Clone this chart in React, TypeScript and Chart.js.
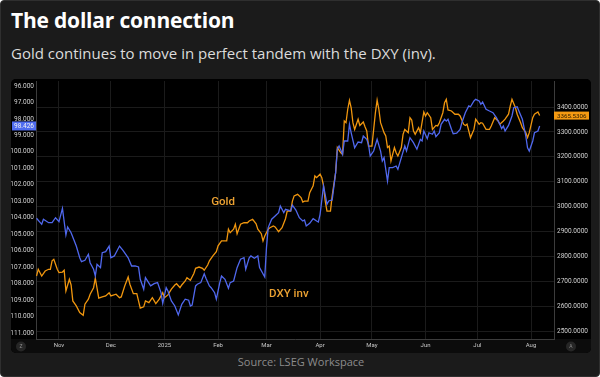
import React, { useEffect, useRef } from "react";
import { Chart, registerables } from "chart.js";
Chart.register(...registerables);

// x values are calendar days counted from 1 Nov 2024
const monthTickDays = [0, 30, 61, 92, 120, 151, 181, 212, 242, 273];
const monthTickLabels = ["Nov", "Dec", "2025", "Feb", "Mar", "Apr", "May", "Jun", "Jul", "Aug"];
const dxyTicks = [96, 97, 98, 99, 100, 101, 102, 103, 104, 105, 106, 107, 108, 109, 110, 111];
const goldTicks = [2500, 2600, 2700, 2800, 2900, 3000, 3100, 3200, 3300, 3400];

const dxyDays = [
  -13, -10, -9, -6, -4, -2, 0, 2, 4, 5, 7, 10, 12, 13, 15, 17, 18, 20, 21, 22,
  24, 25, 27, 29, 30, 32, 35, 37, 40, 42, 44, 46, 47, 49, 50, 53, 55, 57, 59, 60,
  62, 63, 65, 67, 69, 71, 73, 75, 76, 77, 79, 80, 82, 84, 85, 87, 88, 90, 91, 93,
  94, 96, 98, 99, 101, 103, 105, 107, 108, 110, 111, 113, 115, 116, 119, 120, 121, 123, 125, 127,
  128, 130, 131, 134, 135, 137, 139, 141, 142, 143, 145, 147, 149, 150, 151, 153, 155, 156, 158, 160,
  161, 162, 163, 164, 165, 167, 168, 169, 171, 173, 175, 176, 178, 179, 180, 182, 184, 186, 187, 188,
  190, 191, 193, 195, 196, 198, 200, 201, 203, 205, 207, 209, 210, 211, 213, 214, 216, 217, 218, 220,
  221, 223, 224, 225, 227, 228, 230, 232, 233, 235, 237, 238, 240, 241, 243, 244, 245, 247, 249, 251,
  253, 255, 256, 257, 258, 260, 262, 263, 265, 266, 268, 269, 270, 271, 272, 274, 275, 277, 278,
];
const dxyValues = [
  104.03, 104.4, 104.09, 104.3, 104.3, 104.0, 104.24, 103.43, 105.05, 104.56,
  104.91, 105.72, 106.43, 106.67, 106.58, 106.22, 106.73, 107.13, 107.54, 106.83,
  107.03, 106.12, 106.06, 105.72, 106.43, 106.32, 105.72, 105.98, 106.43, 106.93,
  106.93, 106.99, 107.74, 108.34, 107.64, 108.14, 108.0, 107.94, 108.55, 109.2,
  108.25, 108.45, 109.05, 109.36, 109.9, 109.26, 108.95, 109.01, 109.36, 109.3,
  108.14, 108.04, 107.94, 107.4, 107.68, 108.14, 108.25, 108.55, 108.95, 107.94,
  107.54, 107.74, 108.28, 107.94, 107.84, 107.03, 106.52, 106.43, 107.13, 106.43,
  106.32, 106.46, 106.32, 107.03, 107.6, 105.82, 104.6, 104.09, 103.89, 103.69,
  103.29, 103.69, 103.49, 103.59, 103.24, 103.53, 104.0, 104.2, 104.14, 104.5,
  104.34, 104.06, 104.2, 104.26, 103.79, 102.07, 103.18, 102.98, 102.92, 101.26,
  99.84, 99.64, 99.89, 100.15, 99.34, 99.34, 98.33, 98.84, 99.75, 99.4,
  99.44, 99.04, 99.24, 99.54, 100.25, 99.95, 99.24, 99.95, 100.55, 100.35,
  101.77, 100.96, 100.96, 100.86, 101.06, 100.35, 99.64, 99.95, 99.14, 99.44,
  99.84, 99.24, 99.34, 98.73, 99.2, 98.84, 98.93, 98.73, 99.08, 98.84,
  98.33, 98.02, 98.13, 98.02, 98.63, 98.9, 98.87, 98.63, 98.23, 97.62,
  97.21, 97.26, 96.91, 96.81, 96.91, 97.11, 96.97, 97.41, 97.52, 97.62,
  97.92, 98.33, 98.59, 98.43, 98.73, 98.39, 97.82, 97.32, 97.26, 97.52,
  98.02, 98.53, 99.04, 99.75, 99.95, 99.34, 98.84, 98.73, 98.426,
];

const goldDays = [
  -13, -12, -10, -8, -6, -5, -4, -3, -1, 0, 2, 3, 4, 6, 7, 8, 10, 12, 14, 15,
  17, 18, 20, 21, 23, 25, 27, 29, 30, 33, 35, 36, 38, 40, 41, 43, 45, 47, 49, 50,
  52, 54, 56, 58, 60, 61, 63, 65, 67, 68, 70, 71, 73, 74, 76, 78, 79, 81, 83, 84,
  86, 87, 89, 91, 92, 94, 96, 97, 98, 99, 101, 102, 103, 105, 107, 109, 110, 112, 114, 115,
  117, 118, 119, 121, 122, 124, 125, 127, 129, 131, 132, 134, 135, 136, 138, 140, 141, 142, 144, 145,
  147, 148, 149, 151, 152, 153, 154, 155, 157, 158, 160, 161, 163, 164, 165, 166, 167, 168, 169, 170,
  171, 173, 174, 176, 177, 178, 179, 181, 182, 183, 184, 185, 186, 188, 189, 190, 191, 192, 194, 195,
  196, 198, 199, 200, 202, 203, 204, 205, 206, 208, 209, 211, 212, 213, 215, 216, 218, 219, 220, 222,
  223, 224, 225, 227, 229, 231, 232, 234, 235, 236, 238, 240, 241, 243, 244, 245, 247, 249, 250, 252,
  254, 255, 257, 258, 260, 261, 262, 264, 265, 267, 268, 270, 271, 272, 274, 275, 277, 278,
];
const goldValues = [
  2721, 2748, 2721, 2741, 2748, 2748, 2782, 2788, 2748, 2735,
  2737, 2744, 2661, 2708, 2685, 2621, 2601, 2574, 2563, 2608,
  2628, 2648, 2674, 2712, 2632, 2637, 2641, 2654, 2641, 2648,
  2634, 2637, 2681, 2717, 2688, 2650, 2650, 2592, 2597, 2621,
  2614, 2634, 2610, 2628, 2654, 2634, 2645, 2668, 2685, 2690,
  2674, 2685, 2701, 2714, 2704, 2731, 2752, 2757, 2752, 2744,
  2765, 2782, 2802, 2819, 2842, 2862, 2862, 2862, 2909, 2895,
  2909, 2929, 2891, 2929, 2935, 2935, 2942, 2949, 2931, 2909,
  2891, 2862, 2882, 2909, 2915, 2922, 2918, 2899, 2915, 2951,
  2982, 2982, 3022, 3043, 3049, 3036, 3018, 3022, 3022, 3056,
  3083, 3123, 3116, 3130, 3116, 3083, 3022, 2982, 2982, 3043,
  3136, 3237, 3216, 3210, 3344, 3337, 3391, 3427, 3397, 3337,
  3310, 3351, 3326, 3340, 3321, 3304, 3243, 3243, 3310, 3377,
  3428, 3391, 3337, 3297, 3284, 3237, 3243, 3183, 3237, 3216,
  3203, 3237, 3290, 3310, 3297, 3357, 3348, 3304, 3290, 3317,
  3297, 3380, 3364, 3377, 3357, 3310, 3326, 3324, 3337, 3377,
  3417, 3431, 3388, 3384, 3371, 3371, 3364, 3331, 3326, 3331,
  3277, 3310, 3351, 3331, 3337, 3335, 3310, 3310, 3324, 3357,
  3344, 3331, 3344, 3351, 3371, 3404, 3431, 3397, 3371, 3337,
  3317, 3297, 3277, 3297, 3357, 3371, 3380, 3365.5306,
];

const seriesLabels = ["DXY inv", "Gold"];
const annotationTexts = ["Gold", "DXY inv"];
const annotationDays = [88, 121.5];
const annotationGold = [3018, 2649];

const BLUE = "#5068ee";
const ORANGE = "#f0960e";
const FONT = "Roboto, 'DejaVu Sans', sans-serif";

const decorPlugin = {
  id: "decor",
  beforeDraw(chart: any) {
    const { ctx, chartArea, width, height } = chart;
    ctx.save();
    ctx.fillStyle = "#000";
    ctx.fillRect(0, 0, width, height);
    ctx.fillStyle = "#0c0c0c";
    ctx.fillRect(0, chartArea.bottom, width, height - chartArea.bottom);
    ctx.restore();
  },
  afterDraw(chart: any) {
    const { ctx, chartArea, width, height, scales } = chart;
    ctx.save();
    const cy = (chartArea.bottom + height) / 2 + 0.5;
    [
      [10, "Z"],
      [width - 20, "A"],
    ].forEach(([cx, t]: any) => {
      ctx.beginPath();
      ctx.arc(cx, cy, 5, 0, Math.PI * 2);
      ctx.fillStyle = "#262626";
      ctx.fill();
      ctx.fillStyle = "#8a8a8a";
      ctx.font = `5px ${FONT}`;
      ctx.textAlign = "center";
      ctx.textBaseline = "middle";
      ctx.fillText(t, cx, cy);
    });
    const lastDxy = dxyValues[dxyValues.length - 1];
    const lastGold = goldValues[goldValues.length - 1];
    const yL = scales.y.getPixelForValue(lastDxy);
    ctx.fillStyle = "#4f6cf0";
    ctx.fillRect(1, yL - 4.5, chartArea.left - 1, 9);
    ctx.fillStyle = "#f2f2f2";
    ctx.font = `6.5px ${FONT}`;
    ctx.textAlign = "left";
    ctx.textBaseline = "middle";
    ctx.fillText(lastDxy.toFixed(3), 3, yL + 0.5);
    const yR = scales.y1.getPixelForValue(lastGold);
    ctx.fillStyle = "#f59a12";
    ctx.fillRect(chartArea.right, yR - 4, 35, 8);
    ctx.fillStyle = "#2a1a00";
    ctx.font = `6.2px ${FONT}`;
    ctx.fillText(lastGold.toFixed(4), chartArea.right + 3, yR + 0.5);
    ctx.font = `500 11.5px ${FONT}`;
    ctx.fillStyle = "#eca232";
    annotationTexts.forEach((t, i) => {
      const x = scales.x.getPixelForValue(annotationDays[i]);
      const y = scales.y1.getPixelForValue(annotationGold[i]);
      ctx.fillText(t, x, y);
    });
    ctx.restore();
  },
};

const noPad = (axis: any) => {
  axis.paddingTop = 0;
  axis.paddingBottom = 0;
  axis.paddingLeft = 0;
  axis.paddingRight = 0;
};

export default function App() {
  const ref = useRef<HTMLCanvasElement>(null);
  useEffect(() => {
    const prevMargin = document.body.style.margin;
    document.body.style.margin = "0";
    const chart = new Chart(ref.current as HTMLCanvasElement, {
      type: "line",
      data: {
        datasets: [
          {
            label: seriesLabels[0],
            data: dxyDays.map((d, i) => ({ x: d, y: dxyValues[i] })),
            borderColor: BLUE,
            borderWidth: 1.3,
            pointRadius: 0,
            tension: 0,
            yAxisID: "y",
          },
          {
            label: seriesLabels[1],
            data: goldDays.map((d, i) => ({ x: d, y: goldValues[i] })),
            borderColor: ORANGE,
            borderWidth: 1.3,
            pointRadius: 0,
            tension: 0,
            yAxisID: "y1",
          },
        ],
      },
      plugins: [decorPlugin],
      options: {
        animation: false,
        responsive: false,
        devicePixelRatio: 1,
        layout: { padding: { top: 2, left: 0, right: 0, bottom: 0 } },
        plugins: { legend: { display: false }, tooltip: { enabled: false } },
        scales: {
          x: {
            type: "linear",
            min: -13.3,
            max: 286.3,
            afterBuildTicks: (axis: any) => {
              axis.ticks = monthTickDays.map((v) => ({ value: v }));
            },
            afterFit: (axis: any) => {
              axis.height = 14;
              noPad(axis);
            },
            ticks: {
              autoSkip: false,
              maxRotation: 0,
              padding: 3,
              color: "#c8c8c8",
              font: { size: 6, family: FONT },
              callback: (v: any) => monthTickLabels[monthTickDays.indexOf(Number(v))] ?? "",
            },
            grid: { color: "#1b1b1b", drawTicks: false, lineWidth: 1 },
            border: { color: "#3c3c3c" },
          },
          y: {
            position: "left",
            reverse: true,
            min: 95.696,
            max: 111.364,
            afterBuildTicks: (axis: any) => {
              axis.ticks = dxyTicks.map((v) => ({ value: v }));
            },
            afterFit: (axis: any) => {
              axis.width = 25;
              noPad(axis);
            },
            ticks: {
              padding: 2,
              color: "#d0d0d0",
              font: { size: 6.5, family: FONT },
              callback: (v: any) => Number(v).toFixed(3),
            },
            grid: { display: false, drawTicks: false },
            border: { color: "#3c3c3c" },
          },
          y1: {
            position: "right",
            min: 2467.9,
            max: 3504.5,
            afterBuildTicks: (axis: any) => {
              axis.ticks = goldTicks.map((v) => ({ value: v }));
            },
            afterFit: (axis: any) => {
              axis.width = 37;
              noPad(axis);
            },
            ticks: {
              padding: 3,
              color: "#d0d0d0",
              font: { size: 6.5, family: FONT },
              callback: (v: any) => Number(v).toFixed(4),
            },
            grid: { color: "#1b1b1b", drawTicks: false },
            border: { color: "#3c3c3c" },
          },
        },
      },
    } as any);
    return () => {
      chart.destroy();
      document.body.style.margin = prevMargin;
    };
  }, []);

  return (
    <div
      style={{
        position: "absolute",
        left: 0,
        top: 0,
        width: 600,
        height: 377,
        background: "#1b1b1b",
        border: "1px solid #2f2f2f",
        borderRadius: 4,
        boxSizing: "border-box",
        overflow: "hidden",
        fontFamily: "'Open Sans', 'Noto Sans', sans-serif",
      }}
    >
      <div
        style={{
          position: "absolute",
          left: 10,
          top: 5,
          fontSize: 21,
          fontWeight: 700,
          color: "#ffffff",
          whiteSpace: "nowrap",
          letterSpacing: -0.2,
        }}
      >
        The dollar connection
      </div>
      <div
        style={{
          position: "absolute",
          left: 10,
          top: 42,
          fontSize: 15,
          color: "#dcdcdc",
          whiteSpace: "nowrap",
        }}
      >
        Gold continues to move in perfect tandem with the DXY (inv).
      </div>
      <div
        style={{
          position: "absolute",
          left: 10,
          top: 78,
          width: 580,
          height: 274,
          borderRadius: 5,
          overflow: "hidden",
          background: "#000",
        }}
      >
        <canvas ref={ref} width={580} height={274} style={{ display: "block" }} />
      </div>
      <div
        style={{
          position: "absolute",
          left: 0,
          width: 600,
          top: 353,
          textAlign: "center",
          fontSize: 11,
          color: "#8c8c8c",
        }}
      >
        Source: LSEG Workspace
      </div>
    </div>
  );
}
